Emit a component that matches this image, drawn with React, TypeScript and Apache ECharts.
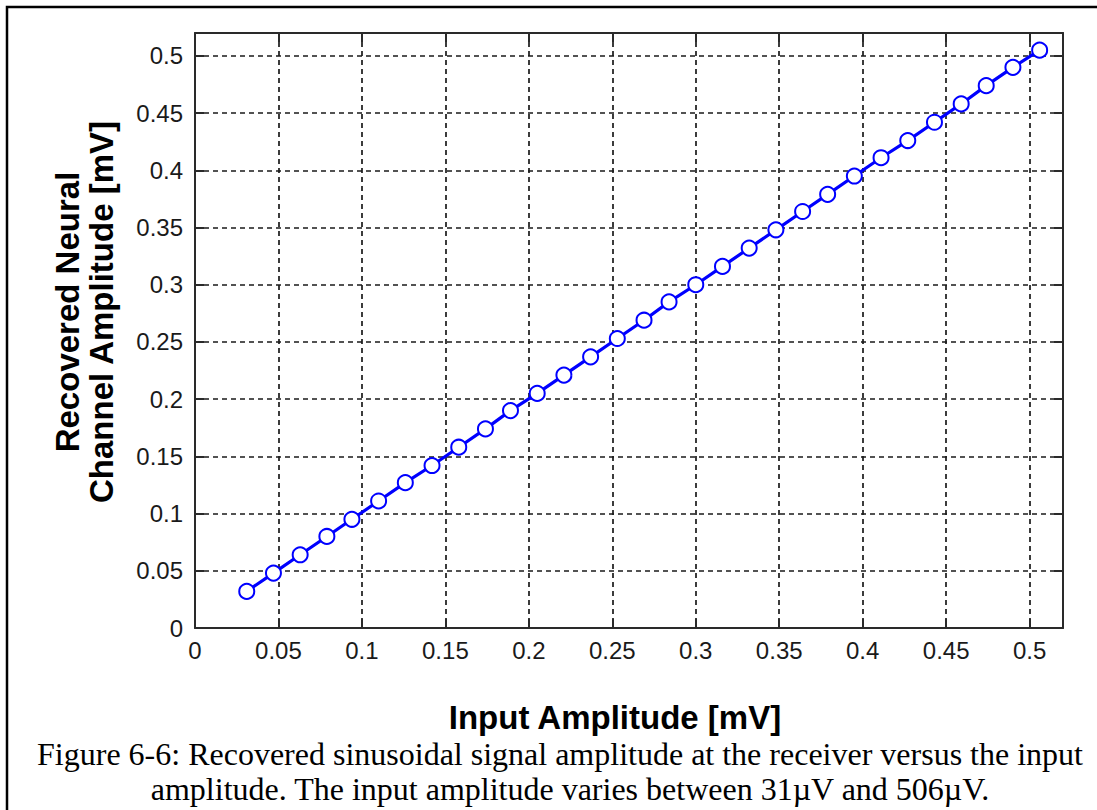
import React, { useEffect, useRef } from "react";
import * as echarts from "echarts";

// Input amplitude sweep [mV]
const inputAmplitude = [
  0.031, 0.047, 0.063, 0.079, 0.094, 0.11, 0.126, 0.142, 0.158, 0.174, 0.189,
  0.205, 0.221, 0.237, 0.253, 0.269, 0.284, 0.3, 0.316, 0.332, 0.348, 0.364,
  0.379, 0.395, 0.411, 0.427, 0.443, 0.459, 0.474, 0.49, 0.506,
];

// Recovered neural channel amplitude [mV]
const recoveredAmplitude = [
  0.032, 0.048, 0.064, 0.08, 0.095, 0.111, 0.127, 0.142, 0.158, 0.174, 0.19,
  0.205, 0.221, 0.237, 0.253, 0.269, 0.285, 0.3, 0.316, 0.332, 0.348, 0.364,
  0.379, 0.395, 0.411, 0.426, 0.442, 0.458, 0.474, 0.49, 0.505,
];

const xTitle = "Input Amplitude [mV]";
const yTitleLines = ["Recovered Neural", "Channel Amplitude [mV]"];
const captionLines = [
  "Figure 6-6: Recovered sinusoidal signal amplitude at the receiver versus the input",
  "amplitude. The input amplitude varies between 31\u00b5V and 506\u00b5V.",
];
const captionCenters = [560, 570];

const AXIS_MIN = 0;
const AXIS_MAX = 0.52;
const AXIS_STEP = 0.05;

const sansFont = "'Liberation Sans', Arial, sans-serif";
const serifFont = "'Liberation Serif', 'Times New Roman', serif";

const fmt = (v: number) => String(+v.toFixed(2));

const makeTick = () => ({
  show: true,
  inside: true,
  length: 9,
  lineStyle: { color: "#2a2a2a", width: 2 },
});
const makeAxisLine = () => ({
  show: true,
  onZero: false,
  lineStyle: { color: "#2a2a2a", width: 2 },
});
const makeSplit = () => ({
  show: true,
  lineStyle: { color: "#1a1a1a", width: 1.7, type: [5, 4] as number[] },
});

export default function App() {
  const ref = useRef<HTMLDivElement>(null);

  useEffect(() => {
    document.body.style.margin = "0";
    if (!ref.current) return;
    const chart = echarts.init(ref.current, null, { renderer: "svg" });

    const tickLabel = () => ({
      color: "#1a1a1a",
      fontFamily: sansFont,
      fontSize: 24,
      formatter: fmt,
      showMaxLabel: false,
      inside: false,
    });

    const data = inputAmplitude.map((x, i) => [x, recoveredAmplitude[i]]);

    chart.setOption({
      animation: false,
      backgroundColor: "#ffffff",
      grid: { left: 195, top: 33, width: 868, height: 595, containLabel: false },
      xAxis: [
        {
          type: "value",
          min: AXIS_MIN,
          max: AXIS_MAX,
          interval: AXIS_STEP,
          position: "bottom",
          axisLine: makeAxisLine(),
          axisTick: makeTick(),
          splitLine: makeSplit(),
          axisLabel: { ...tickLabel(), margin: 10 },
        },
        {
          type: "value",
          min: AXIS_MIN,
          max: AXIS_MAX,
          interval: AXIS_STEP,
          position: "top",
          axisLine: makeAxisLine(),
          axisTick: makeTick(),
          splitLine: { show: false },
          axisLabel: { show: false },
        },
      ],
      yAxis: [
        {
          type: "value",
          min: AXIS_MIN,
          max: AXIS_MAX,
          interval: AXIS_STEP,
          position: "left",
          axisLine: makeAxisLine(),
          axisTick: makeTick(),
          splitLine: makeSplit(),
          axisLabel: { ...tickLabel(), margin: 12 },
        },
        {
          type: "value",
          min: AXIS_MIN,
          max: AXIS_MAX,
          interval: AXIS_STEP,
          position: "right",
          axisLine: makeAxisLine(),
          axisTick: makeTick(),
          splitLine: { show: false },
          axisLabel: { show: false },
        },
      ],
      series: [
        {
          type: "line",
          data,
          xAxisIndex: 0,
          yAxisIndex: 0,
          symbol: "emptyCircle",
          symbolSize: 15,
          lineStyle: { color: "#0000ff", width: 3.2 },
          itemStyle: { color: "#0000ff", borderColor: "#0000ff", borderWidth: 3.2 },
          z: 5,
        },
      ],
      graphic: [
        {
          type: "polyline",
          shape: { points: [[7, 810], [7, 7], [1097, 7]] },
          style: { stroke: "#000", lineWidth: 2.5, fill: "none" },
        },
        {
          type: "text",
          x: 615,
          y: 717,
          style: {
            text: xTitle,
            fontFamily: sansFont,
            fontWeight: "bold",
            fontSize: 33,
            fill: "#000",
            align: "center",
            verticalAlign: "middle",
          },
        },
        ...yTitleLines.map((t, i) => ({
          type: "text",
          x: 67 + i * 34,
          y: 312,
          rotation: Math.PI / 2,
          style: {
            text: t,
            fontFamily: sansFont,
            fontWeight: "bold",
            fontSize: 33,
            fill: "#000",
            align: "center",
            verticalAlign: "middle",
          },
        })),
        ...captionLines.map((t, i) => ({
          type: "text",
          x: captionCenters[i],
          y: 754 + i * 35,
          style: {
            text: t,
            fontFamily: serifFont,
            fontSize: 32,
            fill: "#000",
            align: "center",
            verticalAlign: "middle",
          },
        })),
      ],
    });

    return () => chart.dispose();
  }, []);

  return (
    <div
      ref={ref}
      style={{ position: "absolute", left: 0, top: 0, width: 1097, height: 810 }}
    />
  );
}
